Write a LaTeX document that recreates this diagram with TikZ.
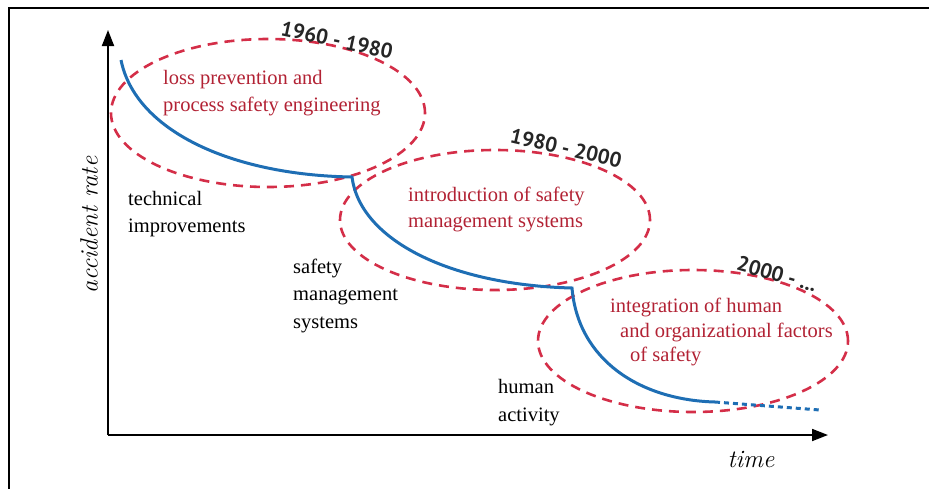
\documentclass[tikz,border=0pt]{standalone}
\usepackage{fontspec}
\newfontfamily\bodyfont{Liberation Serif}
\newfontfamily\yearfont{PT Sans}
\usetikzlibrary{arrows.meta,shapes.geometric}
\definecolor{ellred}{RGB}{212,46,72}
\definecolor{txtred}{RGB}{178,34,52}
\definecolor{curveblue}{RGB}{30,110,180}
\tikzset{
  era/.style={draw=ellred, line width=2.6pt, dash pattern=on 10pt off 7pt, ellipse, inner sep=0pt},
  redtxt/.style={anchor=base west, inner sep=0pt, text=txtred, font=\bodyfont\fontsize{20.5}{24}\selectfont},
  blktxt/.style={anchor=base west, inner sep=0pt, text=black, font=\bodyfont\fontsize{20.5}{24}\selectfont},
  yeartxt/.style={inner sep=0pt, text=black!85, font=\yearfont\bfseries\fontsize{21}{25}\selectfont},
  axislbl/.style={inner sep=0pt, font=\itshape\fontsize{25}{29}\selectfont},
  axisline/.style={line width=1.8pt, -{Triangle[length=16pt,width=12pt]}},
  curve/.style={draw=curveblue, line width=3pt},
}
\begin{document}
\begin{tikzpicture}[x=1pt,y=-1pt]
\useasboundingbox (0,0) rectangle (929,488);
% frame
\coordinate (fb) at (9,490);
\coordinate (ftl) at (9,8);
\coordinate (fr) at (931,8);
\draw[line width=2pt] (fb) -- (ftl) -- (fr);
% ellipses
\node[era, minimum width=314pt, minimum height=148pt] (e1) at (268,113) {};
\node[era, minimum width=310pt, minimum height=140pt] (e2) at (495,220) {};
\node[era, minimum width=310pt, minimum height=142pt] (e3) at (693,341) {};
% axes
\coordinate (O) at (108,435);
\coordinate (ytop) at (108,30);
\coordinate (xend) at (828,435);
\draw[axisline] (O) -- (ytop);
\draw[axisline] (O) -- (xend);
% curve
\coordinate (c0) at (121,60);
\coordinate (c1) at (352,177);
\coordinate (c2) at (572,288);
\coordinate (c3) at (715,402);
\coordinate (c4) at (820,410);
\draw[curve] (c0) .. controls (135,130) and (230,175) .. (c1)
             .. controls (360,240) and (450,285) .. (c2)
             .. controls (578,360) and (640,400) .. (c3);
\draw[curve, dash pattern=on 5pt off 4pt] (c3) -- (c4);
% year labels
\node[yeartxt, rotate=-12] (y1) at (337,40) {1960 - 1980};
\node[yeartxt, rotate=-13] (y2) at (566,148) {1980 - 2000};
\node[yeartxt, rotate=-16] (y3) at (777,274) {2000 - ...};
% red texts
\node[redtxt] (r1a) at (163,84) {loss prevention and};
\node[redtxt] (r1b) at (163,111) {process safety engineering};
\node[redtxt] (r2a) at (408,201) {introduction of safety};
\node[redtxt] (r2b) at (408,227) {management systems};
\node[redtxt] (r3a) at (610,312) {integration of human};
\node[redtxt] (r3b) at (620,337) {and organizational factors};
\node[redtxt] (r3c) at (630,361) {of safety};
% black texts
\node[blktxt] (b1a) at (128,205) {technical};
\node[blktxt] (b1b) at (128,232) {improvements};
\node[blktxt] (b2a) at (293,273) {safety};
\node[blktxt] (b2b) at (293,300) {management};
\node[blktxt] (b2c) at (293,328) {systems};
\node[blktxt] (b3a) at (498,393) {human};
\node[blktxt] (b3b) at (498,421) {activity};
% axis labels
\node[axislbl, rotate=90] (ar) at (89,225) {accident rate};
\node[axislbl] (tm) at (751,459) {time};
\end{tikzpicture}
\end{document}
